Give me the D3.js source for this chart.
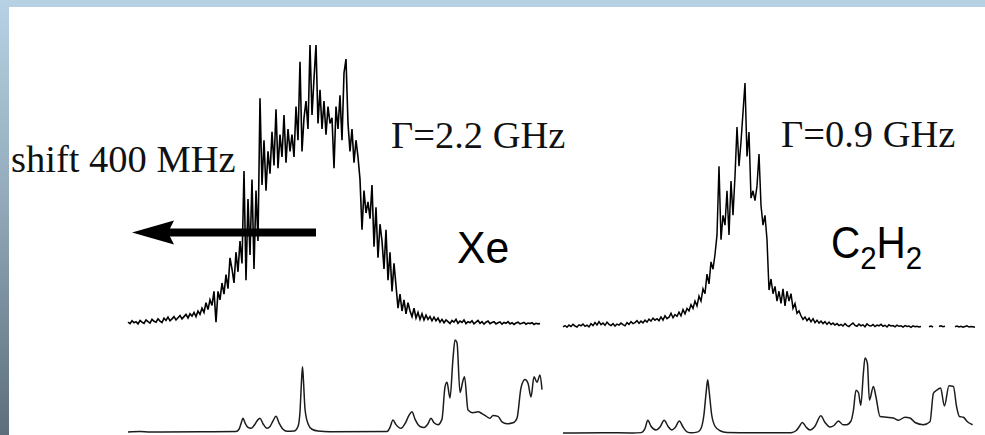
<!DOCTYPE html>
<html>
<head>
<meta charset="utf-8">
<script src="https://cdn.jsdelivr.net/npm/d3@7"></script>
<style>
  html, body { margin: 0; padding: 0; background: #fff; }
  svg { display: block; }
</style>
</head>
<body>
<svg id="chart" width="985" height="435"></svg>
<script>
// ---- Measured spectra (relative intensity, 100 = tallest point of each trace) ----

// Xe-broadened absorption, one value per channel
const xeTrace = [
  1,0.5,1.5,0.8,1.2,0.4,1.6,1,0.6,1.8,1.2,0.7,2,1.3,1,2.2,1.4,0.9,2.4,1.6,
  2.8,1.5,2.2,3,1.8,2.6,3.4,2.2,3,3.8,2.5,4,3.2,4.5,3,5,3.8,
  6,4.5,8,5.5,9,7,12,
  1,
  12,9,15,11,18,13,24,
  20,15,26,19,30,22,55,
  16,45,25,52,20,48,30,
  81,
  50,66,48,62,54,69,57,
  77,56,68,60,75,58,70,62,
  68,60,78,66,94,62,74,
  80,70,100,75,88,100,72,
  84,70,80,68,78,72,
  74,56,78,70,82,66,90,95,72,
  62,70,58,66,60,
  52,34,48,40,44,
  38,50,28,42,24,36,
  30,20,34,16,26,12,22,
  14,6,11,5,9,4,8,
  5,3,6,2.5,4.5,2,4,1.8,3.5,2,3,1.5,2.8,
  1.5,2.5,1,2,0.8,1.8,1.2,0.5,1.6,1,2,0.6,1.4,0.9,1.8,0.5,1.2,0.8,1.5,0.4,
  1,1.6,0.6,1.2,0.3,1,1.4,0.5,0.9,1.2,0.4,0.8,1.1,0.3,0.9,0.6,1.2,0.4,0.8,0.2,
  0.7,1,0.4,0.6,0.9,0.3,0.7,0.5,0.8,0.2,0.6,0.4,0.5
];

// C2H2-broadened absorption, one value per channel (null = no reading)
const c2h2Trace = [
  0.5,1,0.3,1.2,0.6,1.5,0.8,0.4,1.3,0.9,1.6,0.7,1.2,0.5,1.8,1,2.2,1.2,2.6,1.4,
  2,1.1,2.4,1.5,1,1.8,0.8,1.6,1.2,2,1.4,0.9,2.2,1.5,2.6,1.8,2.2,3,1.9,2.8,
  2.1,3.2,2.4,3.6,2.8,4,3.2,3.8,3,
  4.5,3.2,5,3.8,4.4,6,4.2,5.5,4.8,6.5,5,7.5,5.8,8,
  7,9.5,8,11,9,13,11,16,
  14,22,18,27,24,
  30,38,66,36,46,
  42,56,38,60,46,
  62,82,66,76,88,
  100,
  70,80,53,
  56,52,58,71,
  50,42,46,36,
  15.5,
  20,14,17,11,15,10,16,9,
  15,11,14,8,10,6,7,
  5,3.5,4.5,3,4,2.5,3.8,2.2,3.2,2,2.8,1.8,2.6,1.5,2.4,1.4,2,1.2,1.8,1,
  1.5,0.8,1.8,1,0.6,1.4,2,1.1,0.7,1.6,0.9,1.3,0.5,1.7,1,0.8,1.4,0.6,1.2,0.9,
  1.5,0.7,1.1,0.4,1.3,0.8,1,0.5,1.2,0.7,0.9,0.4,1,0.6,0.8,0.3,0.9,0.5,0.7,0.4,0.6,
  null,null,null,
  0.5,0.8,0.4,
  null,null,
  0.6,0.9,0.5,0.7,
  null,null,null,null,
  0.5,0.8,0.4,0.7,0.3,0.6,0.9,0.4,0.6,0.5,0.3
];

// Reference (unbroadened) spectrum under the Xe trace: channel, intensity
const xeRefChannel = [
  0,6,11,36,54,55.5,56.5,57.5,58.5,60,61.5,63,64.5,66,67.5,69.5,71,72.5,74,75.5,
  77.5,79.5,83,85,86,86.75,87.25,87.75,88.5,90,92,95,101,129.5,131,132.5,134,136.5,
  138.5,140.5,142,143.5,146,148,150,151.5,153,155,157,158.5,159.5,161,162.5,163.5,
  164.5,166,167.5,168.25,170,172.5,175,177,178.5,181,182.5,185,187,189.5,192.5,
  194.5,196.5,198.5,200,201.5,203,204.5,206,207
];
const xeRefValue = [
  0,0.5,0,0.3,0.5,3,9,15,10,5,4,7,12,15,9,4,6,12,17,10,
  3,0.8,1,6,22,55,71,55,25,9,3,1,0.3,0.5,5,13,8,4,
  9,18,22,14,6,5,9,15,10,8,14,49,54,37,80,100,
  97,43,56,60,24,21,22,20,18,15,18,17,11,9,10,
  15,48,57,53,38,60,54,62,46
];

// Reference spectrum under the C2H2 trace: channel, intensity
const c2h2RefChannel = [
  0,20,35,39,41,42.4,44,46.5,48.5,50.6,52.5,54.4,56,58.2,60,62,64,67.5,69,70.5,
  71.6,72.35,73.1,74.3,76,78.5,82,95,114,116.5,118,119.7,121.5,123.5,126,128.9,
  131,133.5,135.5,137.7,140,141.8,144,145.2,146.5,147.7,148.9,150.2,151,152.2,
  153.2,155.2,156.5,158.5,161.8,165.2,167.7,171,173.5,176,180.2,183.5,185.2,
  186.8,188.8,190.7,193,195.2,196.8,198.2,200.2,202.2,204.8
];
const c2h2RefValue = [
  0,0.4,0,0.5,6,17,9,4,8,17,9,4,7,16,8,1.5,0.3,1.5,6,25,
  55,71,55,25,9,3,0.8,0.4,0.5,3,8,14,8,4,9,23,
  14,8,10,16,11,11,16,30,57,54,37,80,100,93,
  44,62,48,22,21,20,17,21,20,14,11,15,53,
  57,60,36,63,62,35,22,21,15,11
];

// Labels
const shiftLabel = "shift 400 MHz";
const xeWidth = "Γ=2.2 GHz";
const c2h2Width = "Γ=0.9 GHz";
const xeName = "Xe";
const c2h2Name = ["C", "2", "H", "2"];

// Arrow marking the 400 MHz line shift, in Xe channels / intensity
const shiftArrow = { from: 94, to: 2, level: 33 };

// ---- Drawing ----
const svg = d3.select("#chart");
const W = 985, H = 435;

const defs = svg.append("defs");
const grad = defs.append("linearGradient")
  .attr("id", "sideBar").attr("x1", 0).attr("y1", 0).attr("x2", 0).attr("y2", 1);
grad.append("stop").attr("offset", "0%").attr("stop-color", "#b6d2e4");
grad.append("stop").attr("offset", "45%").attr("stop-color", "#93abbb");
grad.append("stop").attr("offset", "100%").attr("stop-color", "#5d6e7a");

// slide frame
svg.append("rect").attr("width", W).attr("height", H).attr("fill", "#ffffff");
svg.append("rect").attr("x", 0).attr("y", 0).attr("width", W).attr("height", 7).attr("fill", "#b5d1e3");
svg.append("rect").attr("x", 0).attr("y", 0).attr("width", 9).attr("height", H).attr("fill", "url(#sideBar)");

// panel scales
const xXe = d3.scaleLinear().domain([0, xeTrace.length - 1]).range([128, 540]);
const yXe = d3.scaleLinear().domain([0, 100]).range([325, 45]);
const yXeRef = d3.scaleLinear().domain([0, 100]).range([432, 340]);

const xC = d3.scaleLinear().domain([0, c2h2Trace.length - 1]).range([563, 975]);
const yC = d3.scaleLinear().domain([0, 100]).range([328, 83]);
const yCRef = d3.scaleLinear().domain([0, 100]).range([433, 358]);

function traceLine(x, y) {
  return d3.line()
    .defined(d => d != null)
    .x((d, i) => x(i))
    .y(d => y(d));
}
function refLine(x, y) {
  return d3.line()
    .x(d => x(d[0]))
    .y(d => y(d[1]))
    .curve(d3.curveMonotoneX);
}

const g = svg.append("g");

g.append("path").datum(xeTrace)
  .attr("d", traceLine(xXe, yXe))
  .attr("fill", "none").attr("stroke", "#000").attr("stroke-width", 1.6);

g.append("path").datum(c2h2Trace)
  .attr("d", traceLine(xC, yC))
  .attr("fill", "none").attr("stroke", "#000").attr("stroke-width", 1.5);

g.append("path").datum(d3.zip(xeRefChannel, xeRefValue))
  .attr("d", refLine(xXe, yXeRef))
  .attr("fill", "none").attr("stroke", "#1c1c1c").attr("stroke-width", 1.5);

g.append("path").datum(d3.zip(c2h2RefChannel, c2h2RefValue))
  .attr("d", refLine(xC, yCRef))
  .attr("fill", "none").attr("stroke", "#1c1c1c").attr("stroke-width", 1.5);

// shift arrow
const ax0 = xXe(shiftArrow.from), ax1 = xXe(shiftArrow.to), ay = yXe(shiftArrow.level);
const headLen = 42, headHalf = 12;
svg.append("line")
  .attr("x1", ax0).attr("y1", ay).attr("x2", ax1 + headLen - 6).attr("y2", ay)
  .attr("stroke", "#000").attr("stroke-width", 8);
svg.append("path")
  .attr("d", `M${ax1},${ay} L${ax1 + headLen},${ay - headHalf} L${ax1 + headLen - 6},${ay} L${ax1 + headLen},${ay + headHalf} Z`)
  .attr("fill", "#000");

// labels
const serif = "'Liberation Serif', 'Times New Roman', serif";
const sans = "'Liberation Sans', Arial, sans-serif";

svg.append("text").attr("x", 11).attr("y", 172)
  .attr("font-family", serif).attr("font-size", 38.5).attr("fill", "#111")
  .text(shiftLabel);

svg.append("text").attr("x", 391).attr("y", 148)
  .attr("font-family", serif).attr("font-size", 38.5).attr("fill", "#111")
  .text(xeWidth);

svg.append("text").attr("x", 781).attr("y", 147)
  .attr("font-family", serif).attr("font-size", 38.5).attr("fill", "#111")
  .text(c2h2Width);

svg.append("text").attr("x", 457).attr("y", 263)
  .attr("font-family", sans).attr("font-size", 45).attr("fill", "#000")
  .attr("transform", "translate(457,0) scale(0.95,1) translate(-457,0)")
  .text(xeName);

const mol = svg.append("text").attr("x", 831).attr("y", 258)
  .attr("font-family", sans).attr("font-size", 44).attr("fill", "#000")
  .attr("transform", "translate(831,0) scale(0.92,1) translate(-831,0)");
c2h2Name.forEach((s, i) => {
  const sub = i % 2 === 1;
  mol.append("tspan")
    .attr("font-size", sub ? 32 : 44)
    .attr("dy", sub ? 11 : (i === 0 ? 0 : -11))
    .text(s);
});
</script>
</body>
</html>
